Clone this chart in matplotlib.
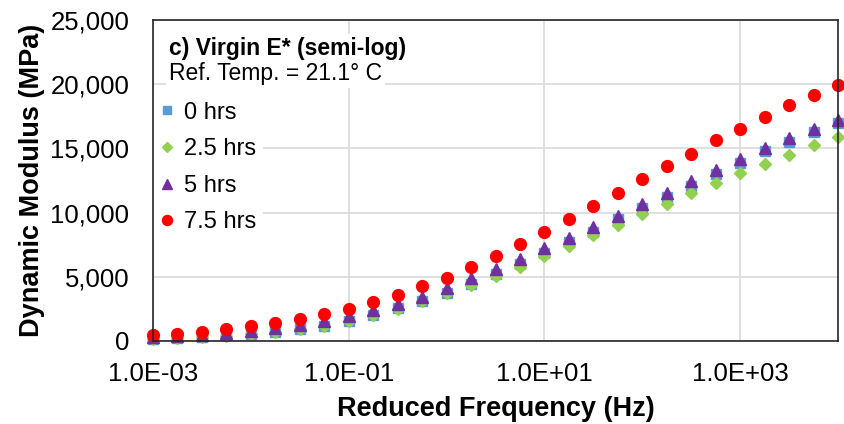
import numpy as np
import matplotlib
matplotlib.use("Agg")
import matplotlib.pyplot as plt
from matplotlib.ticker import FuncFormatter, FixedLocator

plt.rcParams['font.family'] = ['Liberation Sans', 'DejaVu Sans']

# Reduced frequency: 4 points per decade, 1e-3 .. 1e4
exponents = [-3 + 0.25 * i for i in range(29)]
freq = [10 ** e for e in exponents]

e_0hrs = [180, 240, 320, 430, 560, 730, 940, 1200, 1560, 2020, 2560, 3100, 3760, 4420,
          5220, 6020, 6860, 7700, 8520, 9470, 10330, 11200, 12080, 12980, 13900, 14760,
          15520, 16260, 16970]
e_25hrs = [160, 220, 300, 410, 540, 710, 920, 1180, 1530, 1990, 2520, 3080, 3720, 4340,
           5080, 5800, 6600, 7420, 8250, 9000, 9870, 10650, 11530, 12310, 13090, 13810,
           14510, 15240, 15890]
e_5hrs = [300, 380, 480, 620, 780, 980, 1220, 1520, 1920, 2400, 2880, 3450, 4150, 4880,
          5620, 6420, 7230, 8040, 8880, 9770, 10670, 11550, 12440, 13320, 14180, 15030,
          15790, 16510, 17210]
e_75hrs = [467, 570, 700, 935, 1170, 1425, 1740, 2080, 2515, 3040, 3607, 4260, 4930, 5765,
           6620, 7555, 8490, 9500, 10490, 11500, 12620, 13610, 14590, 15630, 16540, 17470,
           18360, 19140, 19940]

labels = ['0 hrs', '2.5 hrs', '5 hrs', '7.5 hrs']
xticks = [1e-3, 1e-1, 1e1, 1e3]
xtick_labels = ['1.0E-03', '1.0E-01', '1.0E+01', '1.0E+03']
yticks = [0, 5000, 10000, 15000, 20000, 25000]

fig = plt.figure(figsize=(8.44, 4.24), dpi=100)
ax = fig.add_axes([0.1813, 0.1958, 0.8116, 0.7570])

ax.plot(freq, e_0hrs, linestyle='none', marker='s', markersize=7, color='#5B9BD5',
        label=labels[0], zorder=3, clip_on=False)
ax.plot(freq, e_25hrs, linestyle='none', marker='D', markersize=6.5, color='#92D050',
        label=labels[1], zorder=4, clip_on=False)
ax.plot(freq, e_5hrs, linestyle='none', marker='^', markersize=8.5, color='#7030A0',
        label=labels[2], zorder=5, clip_on=False)
ax.plot(freq, e_75hrs, linestyle='none', marker='o', markersize=8.5, color='#FF0000',
        label=labels[3], zorder=6, clip_on=False)

ax.set_xscale('log')
ax.set_xlim(1e-3, 1e4)
ax.set_ylim(0, 25000)
ax.xaxis.set_major_locator(FixedLocator(xticks))
ax.xaxis.set_minor_locator(FixedLocator([]))
ax.set_xticklabels(xtick_labels)
ax.set_yticks(yticks)
ax.yaxis.set_major_formatter(FuncFormatter(lambda v, p: f"{int(v):,}"))
ax.tick_params(axis='both', length=0, labelsize=18.5, colors='black')
ax.tick_params(axis='y', pad=17)
ax.tick_params(axis='x', pad=15)
ax.grid(True, color='#D9D9D9', linewidth=1.2, zorder=0)
ax.set_axisbelow(True)
for s in ax.spines.values():
    s.set_color('#262626')
    s.set_linewidth(1.2)
    s.set_zorder(12)

ax.set_xlabel('Reduced Frequency (Hz)', fontsize=19.5, fontweight='bold', labelpad=7)
ax.set_ylabel('Dynamic Modulus (MPa)', fontsize=19.5, fontweight='bold', labelpad=4)

ax.text(0.0234, 0.912, 'c) Virgin E* (semi-log)', transform=ax.transAxes, fontsize=16.5,
        fontweight='bold', va='center', ha='left', zorder=10,
        bbox=dict(facecolor='white', edgecolor='none', pad=2))
ax.text(0.0234, 0.832, 'Ref. Temp. = 21.1° C', transform=ax.transAxes, fontsize=16.5,
        va='center', ha='left', zorder=10,
        bbox=dict(facecolor='white', edgecolor='none', pad=2))

leg = ax.legend(loc='upper left', bbox_to_anchor=(0.0, 0.768), fontsize=17,
                frameon=True, fancybox=False, edgecolor='none', facecolor='white',
                framealpha=1, handlelength=0.6, handletextpad=0.4, labelspacing=0.62,
                borderaxespad=0.0, borderpad=0.3, markerscale=0.85)
leg.set_zorder(10)

fig.savefig('out.png', dpi=100)
